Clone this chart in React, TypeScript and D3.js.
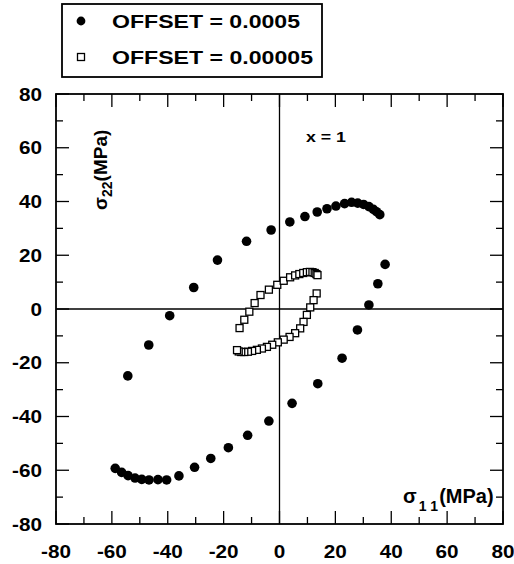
import React from "react";
import * as d3 from "d3";

const majorTicks = [-80, -60, -40, -20, 0, 20, 40, 60, 80];
const minorTicks = [-70, -50, -30, -10, 10, 30, 50, 70];
const seriesLabels = ["OFFSET = 0.0005", "OFFSET = 0.00005"];
const annotation = "x = 1";

// OFFSET = 0.0005 (filled circles): sigma11, sigma22 in MPa
const circleS11 = [
  -54.3, -46.8, -39.3, -30.7, -22.2, -11.8, -3.0, 3.7, 9.1, 13.5, 17.0, 20.2, 23.3, 25.8, 28.0, 30.1, 32.0,
  33.6, 34.7, 35.9,
  37.8, 35.2, 32.0, 27.9, 22.4, 13.7, 4.5, -3.8, -11.4, -18.3, -24.6, -30.4, -36.0, -40.4, -43.5, -46.7,
  -49.3, -51.7, -54.2, -56.5, -58.8,
];
const circleS22 = [
  -24.9, -13.4, -2.5, 8.0, 18.2, 25.2, 29.4, 32.4, 34.4, 36.1, 37.3, 38.3, 39.2, 39.7, 39.4, 38.9, 38.1,
  37.1, 36.2, 35.1,
  16.6, 9.4, 1.5, -7.8, -18.3, -27.8, -35.1, -41.7, -47.0, -51.6, -55.6, -58.9, -62.1, -63.6, -63.5, -63.6,
  -63.4, -62.9, -62.0, -60.8, -59.3,
];

// OFFSET = 0.00005 (open squares)
const squareS11 = [
  -14.3, -12.6, -10.8, -8.9, -6.8, -3.8, -0.8, 1.5, 3.8, 5.6, 7.1, 8.5, 9.8, 10.9, 11.8, 12.6, 13.2, 13.6,
  13.3, 12.2, 11.0, 9.8, 8.6, 7.4, 5.6, 3.6, 1.5, -0.6, -2.6, -4.5, -6.3, -8.1, -9.8, -11.3, -12.6, -13.7,
  -14.6, -15.2,
];
const squareS22 = [
  -7.1, -4.0, -1.0, 2.2, 5.2, 7.2, 9.0, 10.5, 11.8, 12.5, 13.0, 13.4, 13.7, 13.8, 13.7, 13.4, 13.0, 12.6,
  5.8, 3.3, 0.6, -2.2, -4.8, -7.2, -9.0, -10.4, -11.4, -12.4, -13.3, -14.1, -14.7, -15.2, -15.6, -15.9, -16.0,
  -16.0, -15.8, -15.3,
];

const W = 514;
const H = 564;
const L = 56, R = 503, T = 94, B = 524;
const FONT = "'Liberation Sans', Arial, Helvetica, sans-serif";

export default function App() {
  const x = d3.scaleLinear().domain([-80, 80]).range([L, R]);
  const y = d3.scaleLinear().domain([-80, 80]).range([B, T]);
  const MAJ = 13, MIN = 7;
  const tickStroke = { stroke: "#000", strokeWidth: 1.3 };

  const circles = circleS11.map((v, i) => [v, circleS22[i]]);
  const squares = squareS11.map((v, i) => [v, squareS22[i]]);
  const sq = 7;

  return (
    <svg width={W} height={H} style={{ position: "absolute", left: 0, top: 0, background: "#fff" }}
      fontFamily={FONT}>
      <rect x={0} y={0} width={W} height={H} fill="#fff" />
      {/* Legend */}
      <rect x={62} y={4} width={260} height={73} fill="#fff" stroke="#000" strokeWidth={1.8} />
      <circle cx={81} cy={21} r={4.4} fill="#000" />
      <rect x={77.5} y={53.5} width={7} height={7} fill="#fff" stroke="#000" strokeWidth={1.3} />
      <text x={112} y={28} fontSize={19} fontWeight="bold" fill="#000" textLength={188}
        lengthAdjust="spacingAndGlyphs">{seriesLabels[0]}</text>
      <text x={112} y={64} fontSize={19} fontWeight="bold" fill="#000" textLength={201}
        lengthAdjust="spacingAndGlyphs">{seriesLabels[1]}</text>

      {/* zero lines */}
      <line x1={L} x2={R} y1={y(0)} y2={y(0)} stroke="#000" strokeWidth={1.3} />
      <line x1={x(0)} x2={x(0)} y1={T} y2={B} stroke="#000" strokeWidth={1.3} />

      {/* ticks */}
      {majorTicks.map((t) => (
        <g key={"M" + t}>
          <line x1={x(t)} x2={x(t)} y1={B} y2={B - MAJ} {...tickStroke} />
          <line x1={x(t)} x2={x(t)} y1={T} y2={T + MAJ} {...tickStroke} />
          <line x1={L} x2={L + MAJ} y1={y(t)} y2={y(t)} {...tickStroke} />
          <line x1={R} x2={R - MAJ} y1={y(t)} y2={y(t)} {...tickStroke} />
        </g>
      ))}
      {minorTicks.map((t) => (
        <g key={"m" + t}>
          <line x1={x(t)} x2={x(t)} y1={B} y2={B - MIN} {...tickStroke} />
          <line x1={x(t)} x2={x(t)} y1={T} y2={T + MIN} {...tickStroke} />
          <line x1={L} x2={L + MIN} y1={y(t)} y2={y(t)} {...tickStroke} />
          <line x1={R} x2={R - MIN} y1={y(t)} y2={y(t)} {...tickStroke} />
        </g>
      ))}
      <rect x={L} y={T} width={R - L} height={B - T} fill="none" stroke="#000" strokeWidth={1.8} />

      {/* tick labels */}
      {majorTicks.map((t) => (
        <text key={"xl" + t} transform={`translate(${x(t)},558) scale(1.15,1)`} fontSize={18}
          fontWeight="bold" textAnchor="middle" fill="#000">{t}</text>
      ))}
      {majorTicks.map((t) => (
        <text key={"yl" + t} transform={`translate(42,${y(t) + 6.5}) scale(1.15,1)`} fontSize={18}
          fontWeight="bold" textAnchor="end" fill="#000">{t}</text>
      ))}

      {/* data */}
      {circles.map(([a, b], i) => (
        <circle key={"c" + i} cx={x(a)} cy={y(b)} r={4.8} fill="#000" />
      ))}
      {squares.map(([a, b], i) => (
        <rect key={"s" + i} x={x(a) - sq / 2} y={y(b) - sq / 2} width={sq} height={sq}
          fill="#fff" stroke="#000" strokeWidth={1.3} />
      ))}

      {/* annotations */}
      <text x={306} y={142} fontSize={15} fontWeight="bold" fill="#000" textLength={40}
        lengthAdjust="spacingAndGlyphs">{annotation}</text>
      <g transform="translate(107,210) rotate(-90)">
        <text x={0} y={0} fontSize={19} fontWeight="bold" fill="#000">
          σ<tspan fontSize={14} dy={5}>22</tspan><tspan dy={-5}>(MPa)</tspan>
        </text>
      </g>
      <text x={403} y={503} fontSize={20} fontWeight="bold" fill="#000">
        σ<tspan fontSize={14} dx={2} dy={8}>1 1</tspan><tspan dy={-8} dx={1}>(MPa)</tspan>
      </text>
    </svg>
  );
}
